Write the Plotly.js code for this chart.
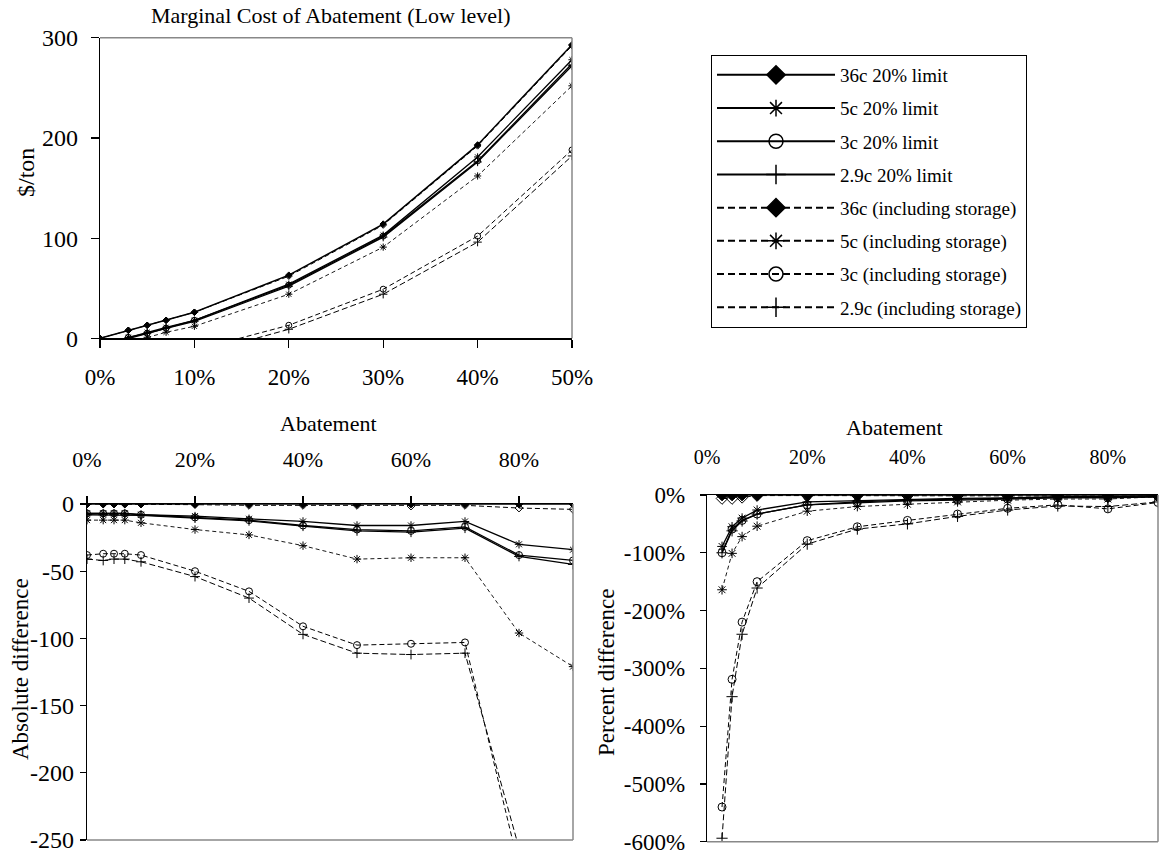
<!DOCTYPE html>
<html>
<head>
<meta charset="utf-8">
<script src="https://cdn.plot.ly/plotly-3.0.1.min.js"></script>
<style>html,body{margin:0;padding:0;background:#fff;}#chart{width:1167px;height:857px;}</style>
</head>
<body>
<div id="chart"></div>
<script>
// ---------- DATA ----------
const seriesNames = ["36c 20% limit","5c 20% limit","3c 20% limit","2.9c 20% limit",
  "36c (including storage)","5c (including storage)","3c (including storage)","2.9c (including storage)"];

// Top chart: Marginal cost ($/ton) vs abatement (%)
const abatTop = [0,3,5,7,10,20,30,40,50];
const cost36Limit   = [0,8,13,18,26,63,114,193,293];
const cost5Limit    = [-7,1,6,11,18,54,103,181,278];
const cost3Limit    = [-7,1,5,10,18,53,102,177,274];
const cost29Limit   = [-8,0,5,10,17,52,101,176,272];
const cost36Storage = [0,8,13,18,26,62,113,192,292];
const cost5Storage  = [-12,-4,1,6,12,44,91,162,252];
const cost3Storage  = [-38,-29,-24,-19,-12,13,49,102,188];
const cost29Storage = [-41,-34,-28,-23,-17,9,44,96,182];

// Bottom-left: absolute difference
const abatAbs = [0,3,5,7,10,20,30,40,50,60,70,80,90];
const abs36Limit   = [0,0,0,0,0,0,0,0,0,0,0,0,0];
const abs5Limit    = [-7,-7,-7,-7,-8,-9,-11,-13,-16,-16,-13,-30,-34];
const abs3Limit    = [-7,-7,-7,-7,-8,-10,-12,-16,-19,-20,-17,-38,-42];
const abs29Limit   = [-8,-8,-8,-8,-8.5,-10.5,-12.5,-16.5,-20,-21,-18,-39,-45];
const abs36Storage = [0,0,0,0,0,-0.5,-1,-1,-1,-1.5,-1,-3,-4];
const abs5Storage  = [-12,-12,-12,-12,-14,-19,-23,-31,-41,-40,-40,-96,-121];
const abs3Storage  = [-38,-37,-37,-37,-38,-50,-65,-91,-105,-104,-103,-270];
const abs29Storage = [-41,-42,-41,-41,-43,-54,-70,-97,-111,-112,-111,-256];

// Bottom-right: percent difference
const abatPct = [3,5,7,10,20,30,40,50,60,70,80,90];
const pct36Limit   = [0,0,0,0,0,0,0,0,0,0,0,0];
const pct5Limit    = [-89,-55,-40,-26,-12,-10,-7.5,-6,-5,-3,-3,-1];
const pct3Limit    = [-100,-59,-44,-33,-17,-13,-10,-9,-7,-5,-5,-3];
const pct29Limit   = [-100,-62,-45,-33,-17,-12,-9,-7,-6,-4,-4,-3];
const pct36Storage = [-6,-6,-4,-1,-1,-1,-1,-1,-1,-1,-2,-2];
const pct5Storage  = [-164,-101,-72,-54,-28,-20,-16,-12,-9,-7,-7,-3];
const pct3Storage  = [-540,-319,-220,-150,-79,-55,-44,-33,-23,-17,-24,-13];
const pct29Storage = [-594,-349,-241,-161,-85,-59,-50,-37,-26,-19,-20,-12];

// Tick labels
const topYTicks = [0,100,200,300];
const topYText = ["0","100","200","300"];
const absYTicks = [0,-50,-100,-150,-200,-250];
const absYText = ["0","-50","-100","-150","-200","-250"];
const pctYTicks = [0,-100,-200,-300,-400,-500,-600];
const pctYText = ["0%","-100%","-200%","-300%","-400%","-500%","-600%"];

// ---------- STYLE ----------
const W = 1167, H = 857;
const FONT = "Liberation Serif, Times New Roman, serif";
const px = v => v / W;
const py = v => 1 - v / H;

const styles = [
  {symbol:"diamond", dash:"solid", width:1.5},
  {symbol:"asterisk-open", dash:"solid", width:1.3},
  {symbol:"circle-open", dash:"solid", width:1.3},
  {symbol:"cross-thin-open", dash:"solid", width:1.3},
  {symbol:"diamond-open", dash:"5px,3px", width:1},
  {symbol:"asterisk-open", dash:"4px,3px", width:0.9},
  {symbol:"circle-open", dash:"5px,3px", width:1},
  {symbol:"cross-thin-open", dash:"6px,3px", width:1}
];

const topData = [cost36Limit,cost5Limit,cost3Limit,cost29Limit,cost36Storage,cost5Storage,cost3Storage,cost29Storage];
const absData = [abs36Limit,abs5Limit,abs3Limit,abs29Limit,abs36Storage,abs5Storage,abs3Storage,abs29Storage];
const pctData = [pct36Limit,pct5Limit,pct3Limit,pct29Limit,pct36Storage,pct5Storage,pct3Storage,pct29Storage];

function mk(x, y, i, xa, ya, msize, dsize) {
  const s = styles[i];
  return {
    type:"scatter", mode:"lines+markers", x:x.slice(0, y.length), y:y,
    xaxis:xa, yaxis:ya, showlegend:false, name:seriesNames[i],
    line:{color:"#000", width:s.width, dash:s.dash},
    marker:{symbol:s.symbol, size:(s.symbol.indexOf("diamond")===0 ? dsize : msize), color:"#000",
      line:{color:"#000", width:1}},
    cliponaxis:true, hoverinfo:"skip"
  };
}

const traces = [];
const order = [4,5,6,7,1,2,3,0];
order.forEach(i => traces.push(mk(abatTop, topData[i], i, "x", "y", 6, 5)));
order.forEach(i => traces.push(mk(abatAbs, absData[i], i, "x2", "y2", 7, 6)));
order.forEach(i => traces.push(mk(abatPct, pctData[i], i, "x3", "y3", 8, 9)));

// legend entries (empty traces carrying the legend styling)
seriesNames.forEach((n, i) => {
  const s = styles[i];
  traces.push({
    type:"scatter", mode:"lines+markers", x:[null], y:[null], xaxis:"x", yaxis:"y",
    name:n, legendgroup:"g"+i, showlegend:true,
    line:{color:"#000", width:2, dash: i < 4 ? "solid" : "7px,4px"},
    marker:{symbol: (i===4 ? "diamond" : s.symbol), size:14, color:"#000", line:{color:"#000", width:1.5}}
  });
});

const axBase = {showgrid:false, zeroline:false, showline:true, linecolor:"#000", linewidth:1.2,
  ticks:"outside", tickcolor:"#000", tickwidth:1.2, fixedrange:true};

const layout = {
  width:W, height:H, paper_bgcolor:"#fff", plot_bgcolor:"#fff",
  margin:{l:0,r:0,t:0,b:0},
  font:{family:FONT, color:"#000", size:20},
  showlegend:true,
  legend:{x:px(711), y:py(55), xanchor:"left", yanchor:"top", bgcolor:"#fff",
    bordercolor:"#000", borderwidth:1, font:{family:FONT, size:19, color:"#000"},
    itemwidth:118, traceorder:"grouped", tracegroupgap:5.5, itemclick:false, itemdoubleclick:false},
  xaxis:Object.assign({}, axBase, {domain:[px(100), px(572)], range:[0,50], dtick:10, ticksuffix:"%",
    ticklen:8, ticklabelstandoff:10, anchor:"y", tickfont:{size:23}}),
  yaxis:Object.assign({}, axBase, {domain:[py(338.3), py(37.7)], range:[0,300],
    tickvals:topYTicks, ticktext:topYText, ticklen:8, ticklabelstandoff:8, anchor:"x", tickfont:{size:24}}),
  xaxis2:Object.assign({}, axBase, {domain:[px(87), px(573)], range:[0,90], dtick:20, ticksuffix:"%",
    side:"top", ticklen:7, ticklabelstandoff:20, anchor:"y2", tickfont:{size:22}}),
  yaxis2:Object.assign({}, axBase, {domain:[py(840), py(504)], range:[-250,0],
    tickvals:absYTicks, ticktext:absYText, ticklen:6, ticklabelstandoff:1, anchor:"x2", tickfont:{size:24}}),
  xaxis3:Object.assign({}, axBase, {domain:[px(707), px(1158)], range:[0,90], dtick:20, ticksuffix:"%",
    side:"top", ticklen:0, ticks:"", ticklabelstandoff:22, anchor:"y3", tickfont:{size:20}}),
  yaxis3:Object.assign({}, axBase, {domain:[py(841.7), py(495)], range:[-600,0],
    tickvals:pctYTicks, ticktext:pctYText, ticklen:6, ticklabelstandoff:10, anchor:"x3", tickfont:{size:23}}),
  shapes:[
    {type:"line", xref:"x domain", yref:"y domain", x0:0, x1:1, y0:1, y1:1, line:{color:"#888", width:1.5}},
    {type:"line", xref:"x domain", yref:"y domain", x0:1, x1:1, y0:0, y1:1, line:{color:"#888", width:1.5}},
    {type:"line", xref:"x2 domain", yref:"y2 domain", x0:1, x1:1, y0:0, y1:1, line:{color:"#888", width:1.5}},
    {type:"line", xref:"x2 domain", yref:"y2 domain", x0:0, x1:1, y0:0, y1:0, line:{color:"#888", width:1.5}},
    {type:"line", xref:"x3 domain", yref:"y3 domain", x0:1, x1:1, y0:0, y1:1, line:{color:"#888", width:1.5}},
    {type:"line", xref:"x3 domain", yref:"y3 domain", x0:0, x1:1, y0:0, y1:0, line:{color:"#888", width:1.5}}
  ],
  annotations:[
    {text:"Marginal Cost of Abatement (Low level)", xref:"paper", yref:"paper", x:px(330), y:py(16),
      xanchor:"center", yanchor:"middle", showarrow:false, font:{size:22}},
    {text:"$/ton", xref:"paper", yref:"paper", x:px(26), y:py(173), textangle:-90,
      xanchor:"center", yanchor:"middle", showarrow:false, font:{size:24}},
    {text:"Abatement", xref:"paper", yref:"paper", x:px(329), y:py(423),
      xanchor:"center", yanchor:"middle", showarrow:false, font:{size:22}},
    {text:"Absolute difference", xref:"paper", yref:"paper", x:px(20), y:py(669), textangle:-90,
      xanchor:"center", yanchor:"middle", showarrow:false, font:{size:23}},
    {text:"Abatement", xref:"paper", yref:"paper", x:px(894), y:py(428),
      xanchor:"center", yanchor:"middle", showarrow:false, font:{size:22}},
    {text:"Percent difference", xref:"paper", yref:"paper", x:px(606), y:py(672), textangle:-90,
      xanchor:"center", yanchor:"middle", showarrow:false, font:{size:23}}
  ]
};

Plotly.newPlot("chart", traces, layout, {staticPlot:true, displayModeBar:false});
</script>
</body>
</html>
